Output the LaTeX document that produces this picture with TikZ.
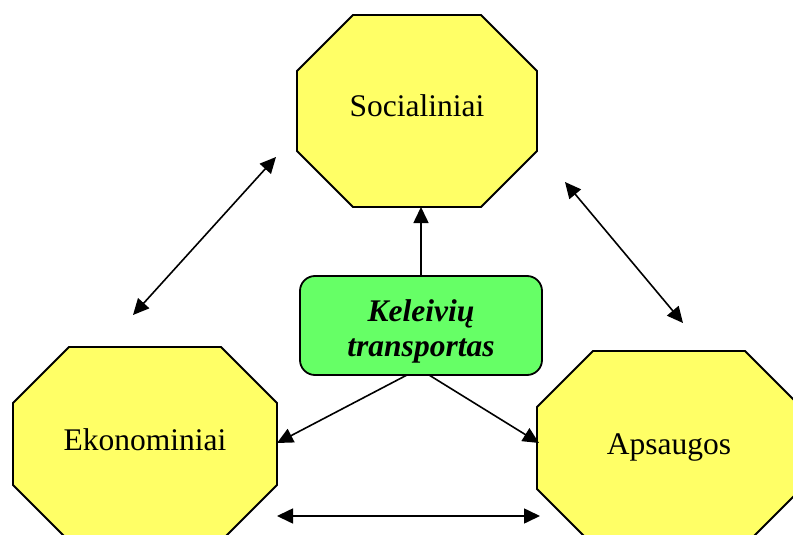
\documentclass[tikz,border=0pt]{standalone}
\usepackage{fontspec}
\setmainfont{Liberation Serif}
\usetikzlibrary{arrows.meta,calc}
\definecolor{octfill}{HTML}{FFFF66}
\definecolor{boxfill}{HTML}{66FF66}
\pgfdeclarelayer{background}
\pgfsetlayers{background,main}

% draws a chamfered octagon around the box of a named node
\newcommand\octoutline[2]{%
  \filldraw[octline]
    ($(#1.north west)+(#2,0)$) -- ($(#1.north east)+(-#2,0)$) --
    ($(#1.north east)+(0,#2)$) -- ($(#1.south east)+(0,-#2)$) --
    ($(#1.south east)+(-#2,0)$) -- ($(#1.south west)+(#2,0)$) --
    ($(#1.south west)+(0,-#2)$) -- ($(#1.north west)+(0,#2)$) -- cycle;}

\tikzset{
  x=1pt, y=-1pt,
  bigfont/.style={font=\fontsize{31.5}{35}\selectfont},
  octnode/.style={bigfont, inner sep=0pt, outer sep=0pt,
    text height=12pt, text depth=0pt},
  octline/.style={fill=octfill, draw=black, line width=1.8pt, line join=miter},
  hubbox/.style={fill=boxfill, draw=black, line width=1.8pt,
    rounded corners=15pt, inner sep=0pt, outer sep=0pt},
  hubtext/.style={font=\fontsize{31.5}{35}\selectfont\bfseries\itshape,
    align=center, inner sep=0pt},
  link/.style={-{Triangle[length=16pt,width=15pt]}, line width=1.6pt},
  twoway/.style={{Triangle[length=16pt,width=15pt]}-{Triangle[length=16pt,width=15pt]}, line width=1.6pt},
}

\begin{document}
\begin{tikzpicture}
  \useasboundingbox (0,0) rectangle (793,535);
  \clip (0,0) rectangle (793,535);

  % the three areas
  \node[octnode, minimum width=240pt, minimum height=192pt] (soc) at (417,111) {Socialiniai};
  \node[octnode, minimum width=264pt, minimum height=194pt] (eko) at (145,444) {Ekonominiai};
  \node[octnode, minimum width=264pt, minimum height=194pt] (aps) at (669,448) {Apsaugos};
  \begin{pgfonlayer}{background}
    \octoutline{soc}{56}
    \octoutline{eko}{56}
    \octoutline{aps}{56}
  \end{pgfonlayer}

  % central box
  \node[hubbox, minimum width=242pt, minimum height=99pt] (kt) at (421,325.5) {};
  \node[hubtext] (ktlabel) at (421,331) {Keleivių\\transportas};

  % links from the centre
  \draw[link] (kt.north) -- (kt.north |- soc.south);
  \draw[link] ([xshift=-14pt]kt.south) -- ([yshift=1pt]eko.east);
  \draw[link] ([xshift=8pt]kt.south) -- ([xshift=2pt,yshift=5pt]aps.west);

  % mutual links between the areas
  \coordinate (socL) at (276,157);
  \coordinate (ekoT) at (133,315);
  \coordinate (socR) at (565,182);
  \coordinate (apsT) at (683,323);
  \coordinate (ekoR) at (277,516);
  \coordinate (apsL) at (540,516);
  \draw[twoway] (socL) -- (ekoT);
  \draw[twoway] (socR) -- (apsT);
  \draw[twoway] (ekoR) -- (apsL);
\end{tikzpicture}
\end{document}
